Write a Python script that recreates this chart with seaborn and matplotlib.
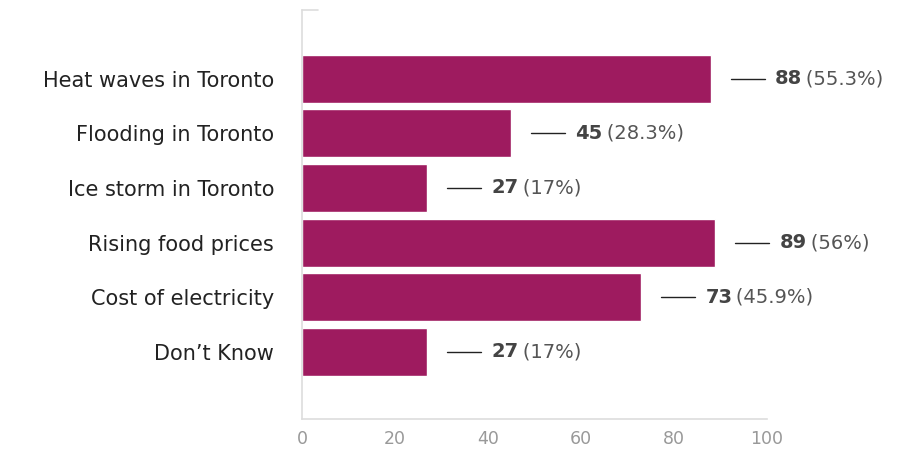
import pandas as pd
import matplotlib.pyplot as plt
import seaborn as sns

categorias = [
    "Heat waves in Toronto",
    "Flooding in Toronto",
    "Ice storm in Toronto",
    "Rising food prices",
    "Cost of electricity",
    "Don\u2019t Know",
]
respostas = [88, 45, 27, 89, 73, 27]
percentuais = ["55.3%", "28.3%", "17%", "56%", "45.9%", "17%"]
ticks_x = [0, 20, 40, 60, 80, 100]

df = pd.DataFrame({"categoria": categorias, "respostas": respostas})

sns.set_style("white")
plt.rcParams["font.family"] = ["DejaVu Sans"]

fig = plt.figure(figsize=(9.04, 4.5), dpi=100)
ax = fig.add_axes([0.334, 0.069, 0.514, 0.909])

sns.barplot(data=df, x="respostas", y="categoria", orient="h",
            color="#9E1B5F", saturation=1, width=0.88, ax=ax)

# rótulos com linha de ligação
for i, (v, p) in enumerate(zip(respostas, percentuais)):
    x0 = v + 4.3
    x1 = x0 + 7.3
    ax.plot([x0, x1], [i, i], color="#222222", lw=1, clip_on=False)
    t = ax.annotate(f"{v}", xy=(x1, i), xytext=(7.5, 0), textcoords="offset points",
                    va="center", ha="left", fontsize=14, fontweight="bold",
                    color="#444444", annotation_clip=False)
    ax.annotate(f"\u2009({p})", xy=(1, 0.5), xycoords=t, va="center", ha="left",
                fontsize=14, color="#555555", annotation_clip=False)

ax.set_xlim(0, 100)
ax.set_ylim(6.23, -1.26)
ax.set_xticks(ticks_x)
ax.set_xticklabels([str(t) for t in ticks_x])
ax.set_xlabel("")
ax.set_ylabel("")

# pequeno traço no topo do eixo y
ax.plot([0, 0.035], [1, 1], color="#DDDDDD", lw=1.2, transform=ax.transAxes, clip_on=False)

for s in ["top", "right"]:
    ax.spines[s].set_visible(False)
for s in ["left", "bottom"]:
    ax.spines[s].set_color("#DDDDDD")
    ax.spines[s].set_linewidth(1.2)

ax.tick_params(axis="x", direction="in", length=5, color="#CCCCCC",
               labelsize=12.5, labelcolor="#999999", pad=8)
ax.tick_params(axis="y", length=0, labelsize=15, labelcolor="#222222", pad=20)

plt.savefig("out.png", dpi=100)
plt.close()
